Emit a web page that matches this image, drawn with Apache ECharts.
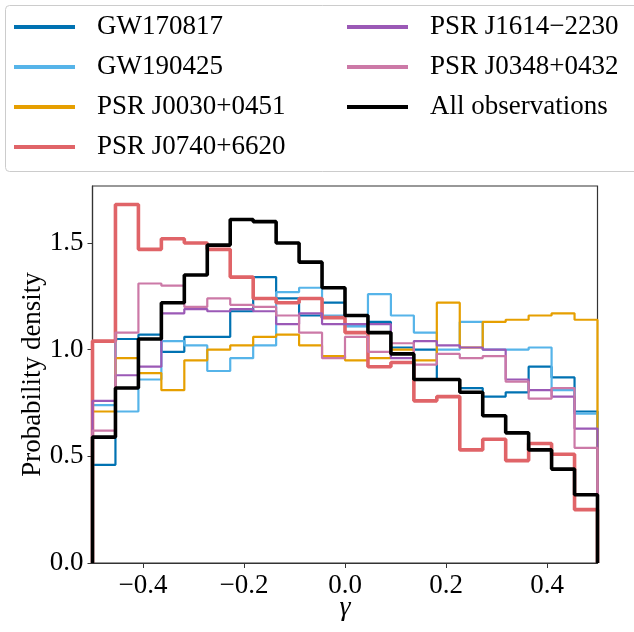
<!DOCTYPE html>
<html>
<head>
<meta charset="utf-8">
<script src="https://cdn.jsdelivr.net/npm/echarts@6/dist/echarts.min.js"></script>
<style>
html, body { margin: 0; padding: 0; background: #fff; }
#chart { width: 634px; height: 632px; }
</style>
</head>
<body>
<div id="chart"></div>
<script>
// histogram of gamma, 22 equal bins on [-0.5, 0.5]
const xMin = -0.5, xMax = 0.5, nBins = 22;
const binEdges = [];
for (let i = 0; i <= nBins; i++) binEdges.push(xMin + i * (xMax - xMin) / nBins);

const seriesNames = ['GW170817', 'GW190425', 'PSR J0030+0451', 'PSR J0740+6620',
                     'PSR J1614\u22122230', 'PSR J0348+0432', 'All observations'];

// probability density per bin
const gw170817 = [0.46, 1.05, 1.07, 0.99, 1.06, 1.06, 1.18, 1.34, 1.24, 1.16, 1.22,
                  1.11, 1.13, 1.01, 1.00, 0.86, 0.82, 0.78, 0.80, 0.92, 0.87, 0.71];
const gw190425 = [0.74, 0.71, 0.86, 1.04, 1.02, 0.90, 0.96, 1.02, 1.27, 1.29, 1.16,
                  1.11, 1.26, 1.16, 1.08, 1.00, 1.13, 1.00, 1.00, 1.01, 0.81, 0.70];
const j0030 = [0.71, 0.96, 0.89, 0.81, 0.95, 1.00, 1.02, 1.06, 1.07, 1.02, 0.97,
               0.95, 0.96, 1.00, 0.95, 1.22, 1.01, 1.13, 1.14, 1.16, 1.17, 1.14];
const j0740 = [1.04, 1.68, 1.47, 1.52, 1.50, 1.47, 1.34, 1.24, 1.22, 1.24, 1.15,
               1.08, 0.92, 0.94, 0.76, 0.78, 0.53, 0.58, 0.48, 0.56, 0.51, 0.25];
const j1614 = [0.76, 0.88, 0.92, 1.17, 1.19, 1.18, 1.19, 1.18, 1.12, 1.17, 1.12,
               1.12, 1.12, 0.96, 1.04, 1.02, 1.01, 1.00, 0.86, 0.81, 0.78, 0.63];
const j0348 = [0.62, 1.08, 1.31, 1.30, 1.20, 1.24, 1.21, 1.20, 1.16, 1.08, 0.96,
               1.06, 0.99, 1.03, 0.93, 0.98, 0.96, 0.97, 0.85, 0.77, 0.82, 0.54];
const allObs = [0.59, 0.82, 1.05, 1.22, 1.35, 1.49, 1.61, 1.60, 1.50, 1.41, 1.29,
                1.16, 1.08, 0.98, 0.86, 0.86, 0.80, 0.69, 0.61, 0.53, 0.44, 0.32];

const xTicks = [-0.4, -0.2, 0.0, 0.2, 0.4];
const yTicks = [0.0, 0.5, 1.0, 1.5];

const colors = ['#0072B2', '#56B4E9', '#E69F00', '#E06468', '#9B59B6', '#CC79A7', '#000000'];
const widths = [2.2, 2.2, 2.2, 3.6, 2.2, 2.2, 3.6];
const allData = [gw170817, gw190425, j0030, j0740, j1614, j0348, allObs];

const fontFamily = 'Liberation Serif';

// step outline like matplotlib histtype='step'
function stepData(vals) {
    const d = [[binEdges[0], 0]];
    vals.forEach(function (v, i) { d.push([binEdges[i], v]); });
    d.push([binEdges[nBins], vals[nBins - 1]]);
    d.push([binEdges[nBins], 0]);
    return d;
}

function fmt(v) {
    return (v < 0 ? '\u2212' : '') + Math.abs(v).toFixed(1);
}

const chart = echarts.init(document.getElementById('chart'));

const legendCommon = {
    orient: 'vertical',
    top: 13,
    padding: 0,
    icon: 'rect',
    itemWidth: 61,
    itemHeight: 4,
    itemGap: 12,
    selectedMode: false,
    textStyle: {
        fontFamily: fontFamily,
        fontSize: 27,
        color: '#000',
        lineHeight: 28,
        padding: [0, 0, 0, 17]
    }
};

const option = {
    animation: false,
    backgroundColor: '#fff',
    graphic: [{
        type: 'rect',
        shape: { x: 5.5, y: 5.5, width: 640, height: 166, r: 4 },
        style: { fill: 'rgba(255,255,255,0.8)', stroke: '#cccccc', lineWidth: 1 },
        z: -1
    }],
    legend: [
        Object.assign({ left: 14, data: seriesNames.slice(0, 4) }, legendCommon),
        Object.assign({ left: 347, data: seriesNames.slice(4) }, legendCommon)
    ],
    grid: {
        left: 92.5, right: 36.5, top: 186, bottom: 69,
        containLabel: false,
        outerBoundsMode: 'none',
        show: true, borderColor: '#333', borderWidth: 1.2, backgroundColor: 'transparent'
    },
    xAxis: {
        type: 'value',
        min: xMin,
        max: xMax,
        name: '\u03B3',
        nameLocation: 'middle',
        nameGap: 31,
        nameMoveOverlap: false,
        nameTextStyle: { fontFamily: fontFamily, fontSize: 28, fontStyle: 'italic', color: '#000' },
        axisLine: { show: true, onZero: false, lineStyle: { color: '#333', width: 1.2 } },
        axisTick: { show: true, length: 5, customValues: xTicks, lineStyle: { color: '#333' } },
        axisLabel: {
            customValues: xTicks,
            formatter: fmt,
            margin: 9,
            fontFamily: fontFamily, fontSize: 27, color: '#000'
        },
        splitLine: { show: false }
    },
    yAxis: {
        type: 'value',
        min: 0,
        max: 1.767,
        name: 'Probability density',
        nameLocation: 'middle',
        nameGap: 46,
        nameMoveOverlap: false,
        nameTextStyle: { fontFamily: fontFamily, fontSize: 27, color: '#000' },
        axisLine: { show: true, onZero: false, lineStyle: { color: '#333', width: 1.2 } },
        axisTick: { show: true, length: 5, customValues: yTicks, lineStyle: { color: '#333' } },
        axisLabel: {
            customValues: yTicks,
            formatter: fmt,
            margin: 9,
            fontFamily: fontFamily, fontSize: 27, color: '#000'
        },
        splitLine: { show: false }
    },
    series: seriesNames.map(function (name, i) {
        return {
            name: name,
            type: 'line',
            step: 'end',
            data: stepData(allData[i]),
            showSymbol: false,
            color: colors[i],
            itemStyle: { color: colors[i] },
            lineStyle: { color: colors[i], width: widths[i] },
            z: 2 + i
        };
    })
};

chart.setOption(option);
</script>
</body>
</html>
